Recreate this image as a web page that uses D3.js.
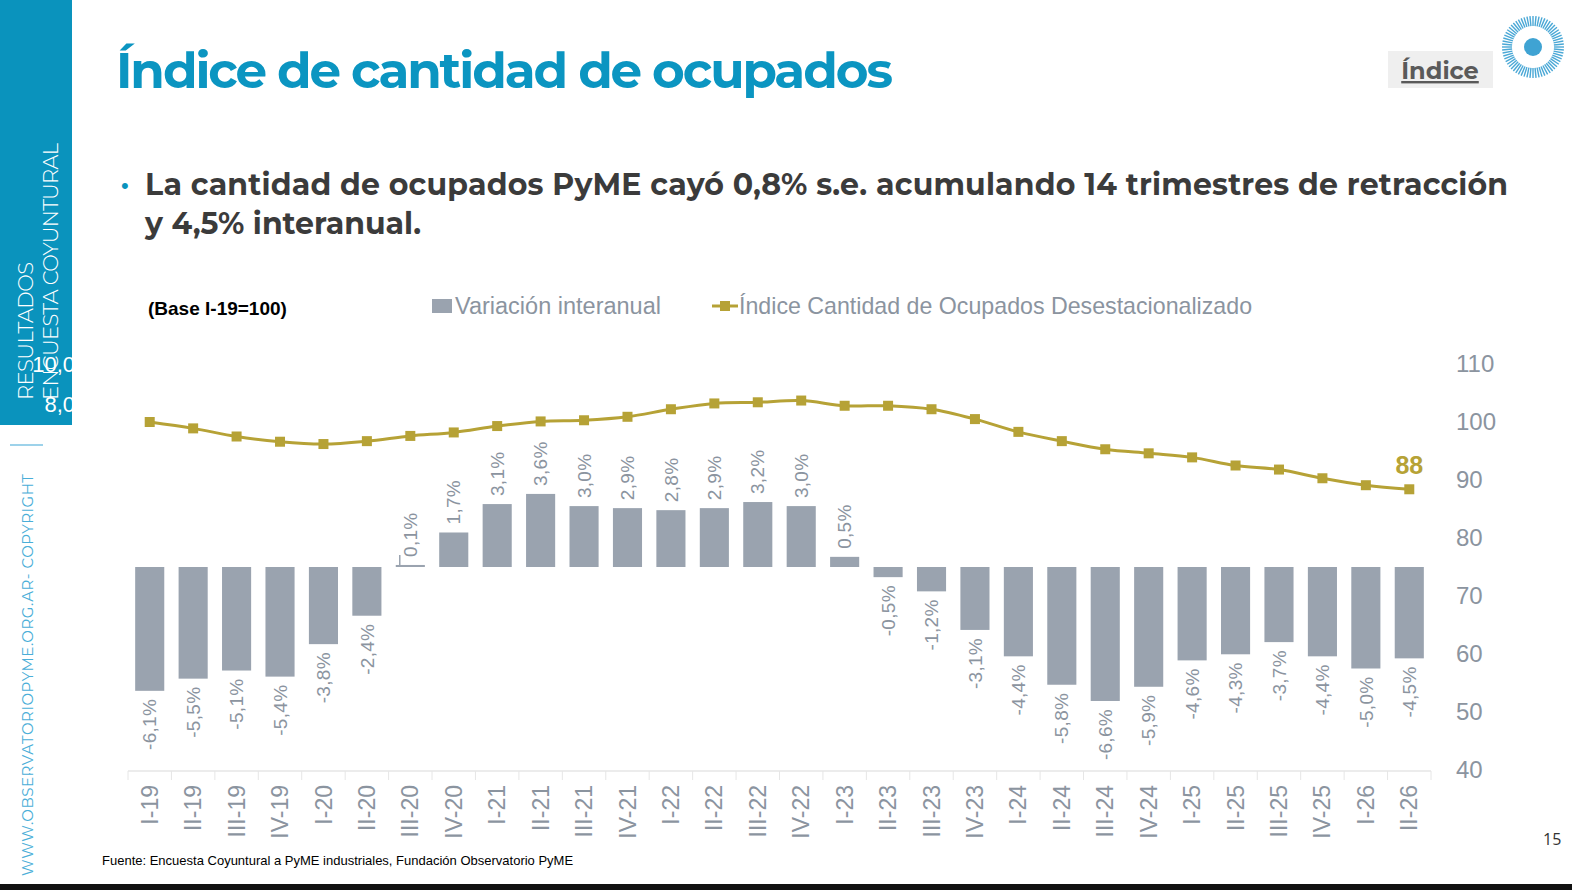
<!DOCTYPE html>
<html>
<head>
<meta charset="utf-8">
<style>
  body { margin: 0; background: #fff; }
  svg { display: block; }
</style>
</head>
<body>
<svg></svg>
<script src="https://cdn.jsdelivr.net/npm/d3@7/dist/d3.min.js"></script>
<script>

  // ---- data ----
  const quarters = ["I-19", "II-19", "III-19", "IV-19", "I-20", "II-20", "III-20", "IV-20",
                    "I-21", "II-21", "III-21", "IV-21", "I-22", "II-22", "III-22", "IV-22",
                    "I-23", "II-23", "III-23", "IV-23", "I-24", "II-24", "III-24", "IV-24",
                    "I-25", "II-25", "III-25", "IV-25", "I-26", "II-26"]

  // variación interanual (%)
  const variation = [-6.1, -5.5, -5.1, -5.4, -3.8, -2.4, 0.1, 1.7,
                     3.1, 3.6, 3.0, 2.9, 2.8, 2.9, 3.2, 3.0,
                     0.5, -0.5, -1.2, -3.1, -4.4, -5.8, -6.6, -5.9,
                     -4.6, -4.3, -3.7, -4.4, -5.0, -4.5]

  // índice desestacionalizado (base I-19 = 100)
  const occupiedIndex = [100.0, 98.9, 97.5, 96.6, 96.2, 96.7, 97.6, 98.2,
                         99.3, 100.1, 100.3, 100.9, 102.2, 103.2, 103.4, 103.7,
                         102.8, 102.8, 102.2, 100.5, 98.3, 96.7, 95.3, 94.6,
                         93.9, 92.5, 91.8, 90.3, 89.1, 88.4]

  const leftTicks = [-10, -8, -6, -4, -2, 0, 2, 4, 6, 8, 10]
  const rightTicks = [40, 50, 60, 70, 80, 90, 100, 110]
  const seriesNames = ["Variación interanual", "Índice Cantidad de Ocupados Desestacionalizado"]

  const width = 1572,
        height = 890,
        colors = {blue: '#0a93bd',
                  title: '#0b95c1',
                  bar: '#9aa3af',
                  label: '#8b949f',
                  line: '#b6a236',
                  text: '#3b3b3b',
                  light: '#4aaed8',
                  axis: '#e6e6e6'}

  const chartFont = "'Liberation Sans', Arial, sans-serif",
        headFont = "Montserrat, Inter, 'Open Sans', sans-serif"

  const margin = {left: 128, top: 364, right: 141, bottom: 120}
  const plotW = width - margin.left - margin.right,
        plotH = height - margin.top - margin.bottom

  const locale = d3.formatLocale({decimal: ",", thousands: ".", grouping: [3], currency: ["$", ""], minus: "-"})
  const fmt1 = locale.format(".1f"),
        fmt0 = locale.format(".0f")

  const svg = d3.select("svg")
      .attr("width", width)
      .attr("height", height)
      .style("font-family", chartFont)

  // ---- slide frame ----
  svg.append("rect")
    .attr("x", 0).attr("y", 0)
    .attr("width", 72).attr("height", 425)
    .attr("fill", colors.blue)

  svg.append("text")
    .attr("transform", "translate(33, 400) rotate(-90)")
    .attr("textLength", 138)
    .style("font-family", headFont)
    .style("font-weight", 300)
    .style("font-size", "21px")
    .attr("fill", "#fff")
    .text("RESULTADOS")
  svg.append("text")
    .attr("transform", "translate(58, 400) rotate(-90)")
    .attr("textLength", 257)
    .style("font-family", headFont)
    .style("font-weight", 300)
    .style("font-size", "21px")
    .attr("fill", "#fff")
    .text("ENCUESTA COYUNTURAL")

  svg.append("line")
    .attr("x1", 10).attr("x2", 43)
    .attr("y1", 445).attr("y2", 445)
    .attr("stroke", "#7cc3e3")
    .attr("stroke-width", 1.5)

  svg.append("text")
    .attr("transform", "translate(33, 876) rotate(-90)")
    .attr("textLength", 402)
    .style("font-family", headFont)
    .style("font-weight", 400)
    .style("font-size", "15px")
    .attr("fill", colors.light)
    .text("WWW.OBSERVATORIOPYME.ORG.AR-  COPYRIGHT")

  svg.append("text")
    .attr("x", 116).attr("y", 88)
    .attr("textLength", 777)
    .style("font-family", headFont)
    .style("font-weight", 700)
    .style("font-size", "50px")
    .attr("fill", colors.title)
    .text("Índice de cantidad de ocupados")

  svg.append("text")
    .attr("x", 121).attr("y", 193)
    .style("font-size", "22px")
    .attr("fill", colors.blue)
    .text("•")
  svg.append("text")
    .attr("x", 145).attr("y", 195)
    .attr("textLength", 1363)
    .style("font-family", headFont)
    .style("font-weight", 700)
    .style("font-size", "30px")
    .attr("fill", colors.text)
    .text("La cantidad de ocupados PyME cayó 0,8% s.e. acumulando 14 trimestres de retracción")
  svg.append("text")
    .attr("x", 145).attr("y", 234)
    .attr("textLength", 276)
    .style("font-family", headFont)
    .style("font-weight", 700)
    .style("font-size", "30px")
    .attr("fill", colors.text)
    .text("y 4,5% interanual.")

  // "Índice" button + logo
  svg.append("rect")
    .attr("x", 1388).attr("y", 51)
    .attr("width", 105).attr("height", 37)
    .attr("fill", "#efefef")
  svg.append("text")
    .attr("x", 1440).attr("y", 79)
    .style("text-anchor", "middle")
    .style("font-family", headFont)
    .style("font-weight", 700)
    .style("font-size", "24px")
    .style("text-decoration", "underline")
    .attr("fill", "#5a5a5a")
    .text("Índice")

  const logo = svg.append("g")
    .attr("transform", "translate(1533, 47)")
  logo.selectAll("line")
    .data(d3.range(64))
    .join("line")
      .attr("x1", d => 21 * Math.cos(d / 64 * 2 * Math.PI))
      .attr("y1", d => 21 * Math.sin(d / 64 * 2 * Math.PI))
      .attr("x2", d => 31 * Math.cos(d / 64 * 2 * Math.PI))
      .attr("y2", d => 31 * Math.sin(d / 64 * 2 * Math.PI))
      .attr("stroke", "#4aa8d6")
      .attr("stroke-width", 1.4)
  logo.append("circle")
    .attr("r", 9)
    .attr("fill", "#3fa3d3")

  svg.append("text")
    .attr("x", 1543).attr("y", 845)
    .style("font-family", "'Open Sans', sans-serif")
    .style("font-size", "16px")
    .attr("fill", "#333")
    .text("15")

  svg.append("text")
    .attr("x", 102).attr("y", 865)
    .style("font-size", "13px")
    .attr("fill", "#000")
    .text("Fuente: Encuesta Coyuntural a PyME industriales, Fundación Observatorio PyME")

  svg.append("rect")
    .attr("x", 0).attr("y", 884)
    .attr("width", width).attr("height", 6)
    .attr("fill", "#111")

  // ---- chart ----
  const x = d3.scaleBand()
    .domain(quarters)
    .range([0, plotW])
    .paddingInner(0.33)
    .paddingOuter(0.165)

  const yLeft = d3.scaleLinear()
    .domain([-10, 10])
    .range([plotH, 0])

  const yRight = d3.scaleLinear()
    .domain([40, 110])
    .range([plotH, 0])

  const chart = svg.append("g")
    .attr("transform", `translate(${margin.left}, ${margin.top})`)

  // left axis labels are white in the original, only visible over the sidebar
  const gLeft = chart.append("g")
    .call(d3.axisLeft(yLeft).tickValues(leftTicks).tickSize(0).tickPadding(53).tickFormat(fmt1))
  gLeft.select(".domain").remove()
  gLeft.selectAll("text")
    .attr("fill", "#fff")
    .style("font-family", chartFont)
    .style("font-size", "22px")

  const gRight = chart.append("g")
    .attr("transform", `translate(${plotW}, 0)`)
    .call(d3.axisRight(yRight).tickValues(rightTicks).tickSize(0).tickPadding(25))
  gRight.select(".domain").remove()
  gRight.selectAll("text")
    .attr("fill", colors.label)
    .style("font-family", chartFont)
    .style("font-size", "24px")

  // category axis
  const gBottom = chart.append("g")
    .attr("transform", `translate(0, ${plotH + 1})`)
  gBottom.append("line")
    .attr("x1", 0).attr("x2", plotW)
    .attr("stroke", colors.axis)
    .attr("stroke-width", 1.5)
  gBottom.selectAll(".sep")
    .data(quarters.concat([null]))
    .join("line")
      .attr("class", "sep")
      .attr("x1", (d, i) => i * x.step())
      .attr("x2", (d, i) => i * x.step())
      .attr("y2", 9)
      .attr("stroke", colors.axis)
  gBottom.selectAll(".xlab")
    .data(quarters)
    .join("text")
      .attr("class", "xlab")
      .attr("transform", d => `translate(${x(d) + x.bandwidth() / 2}, 14) rotate(-90)`)
      .attr("dy", "0.35em")
      .style("text-anchor", "end")
      .style("font-size", "23px")
      .attr("fill", colors.label)
      .text(d => d)

  // bars
  chart.selectAll(".bars")
    .data(variation)
    .join("rect")
      .attr("class", "bars")
      .attr("x", (d, i) => x(quarters[i]))
      .attr("width", x.bandwidth())
      .attr("y", d => yLeft(Math.max(0, d)))
      .attr("height", d => Math.max(2, Math.abs(yLeft(d) - yLeft(0))))
      .attr("fill", colors.bar)

  // small leader tick next to tiny bars
  chart.selectAll(".leader")
    .data(variation.map((d, i) => ({d, i})).filter(o => Math.abs(o.d) < 0.3))
    .join("line")
      .attr("class", "leader")
      .attr("x1", o => x(quarters[o.i]) + 4)
      .attr("x2", o => x(quarters[o.i]) + 4)
      .attr("y1", yLeft(0))
      .attr("y2", yLeft(0) - 12)
      .attr("stroke", colors.bar)
      .attr("stroke-width", 1.5)

  chart.selectAll(".barLabels")
    .data(variation)
    .join("text")
      .attr("class", "barLabels")
      .attr("transform", (d, i) => `translate(${x(quarters[i]) + x.bandwidth() / 2}, ${d >= 0 ? yLeft(d) - 8 : yLeft(d) + 8}) rotate(-90)`)
      .attr("dy", "0.35em")
      .style("text-anchor", d => d >= 0 ? "start" : "end")
      .style("font-size", "19px")
      .style("letter-spacing", "0.3px")
      .attr("fill", colors.label)
      .text(d => fmt1(d) + "%")

  // index line
  const line = d3.line()
    .x((d, i) => x(quarters[i]) + x.bandwidth() / 2)
    .y(d => yRight(d))
    .curve(d3.curveCatmullRom.alpha(0.5))

  chart.append("path")
    .datum(occupiedIndex)
    .attr("d", line)
    .attr("fill", "none")
    .attr("stroke", colors.line)
    .attr("stroke-width", 3)

  chart.selectAll(".marks")
    .data(occupiedIndex)
    .join("rect")
      .attr("class", "marks")
      .attr("x", (d, i) => x(quarters[i]) + x.bandwidth() / 2 - 5)
      .attr("y", d => yRight(d) - 5)
      .attr("width", 10)
      .attr("height", 10)
      .attr("fill", colors.line)

  const last = occupiedIndex.length - 1
  chart.append("text")
    .attr("x", x(quarters[last]) + x.bandwidth() / 2)
    .attr("y", yRight(occupiedIndex[last]) - 15)
    .style("text-anchor", "middle")
    .style("font-weight", 700)
    .style("font-size", "25px")
    .attr("fill", colors.line)
    .text(fmt0(occupiedIndex[last]))

  // ---- legend ----
  svg.append("text")
    .attr("x", 148).attr("y", 315)
    .style("font-weight", 700)
    .style("font-size", "19px")
    .attr("fill", "#000")
    .text("(Base I-19=100)")

  const legend = svg.append("g")
    .attr("transform", "translate(432, 306)")
  legend.append("rect")
    .attr("x", 0).attr("y", -7)
    .attr("width", 20).attr("height", 14)
    .attr("fill", colors.bar)
  legend.append("text")
    .attr("x", 23).attr("y", 8)
    .style("font-size", "23.5px")
    .attr("fill", colors.label)
    .text(seriesNames[0])
  legend.append("line")
    .attr("x1", 280).attr("x2", 306)
    .attr("stroke", colors.line)
    .attr("stroke-width", 3)
  legend.append("rect")
    .attr("x", 288).attr("y", -5)
    .attr("width", 10).attr("height", 10)
    .attr("fill", colors.line)
  legend.append("text")
    .attr("x", 307).attr("y", 8)
    .style("font-size", "23.2px")
    .attr("fill", colors.label)
    .text(seriesNames[1])

</script>
</body>
</html>
